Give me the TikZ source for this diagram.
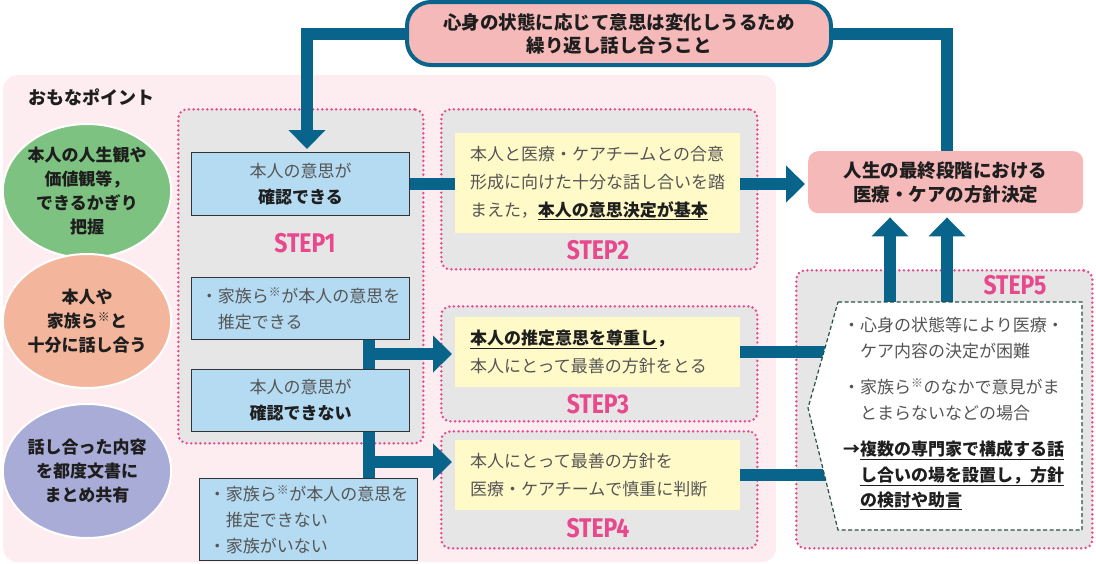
\documentclass[tikz,border=0pt]{standalone}
\usepackage{fontspec}
\setmainfont{Noto Sans CJK JP}
\newfontfamily\stepfont[FakeStretch=0.85]{Fira Sans}
\usetikzlibrary{arrows.meta,calc,shapes.geometric}
\definecolor{barblue}{RGB}{8,100,138}
\definecolor{ptbg}{RGB}{253,237,241}
\definecolor{stepbg}{RGB}{230,230,231}
\definecolor{dotpink}{RGB}{232,72,140}
\definecolor{lblue}{RGB}{180,219,242}
\definecolor{lyellow}{RGB}{255,250,200}
\definecolor{lpink}{RGB}{246,185,185}
\definecolor{cgreen}{RGB}{125,194,128}
\definecolor{corange}{RGB}{243,181,155}
\definecolor{cpurple}{RGB}{168,172,214}
\definecolor{txtgray}{RGB}{85,85,85}
\definecolor{dashgreen}{RGB}{40,80,70}
\definecolor{txtblack}{RGB}{30,30,30}
\newcommand\jbold[1]{\textbf{\color{txtblack}#1}}
\pgfdeclarelayer{bglayer}
\pgfdeclarelayer{midlayer}
\pgfsetlayers{bglayer,midlayer,main}
\tikzset{
 ptregion/.style={fill=ptbg, rounded corners=14pt, inner sep=0pt, anchor=north west},
 stepregion/.style={draw=dotpink, fill=stepbg, line width=2.7pt, dash pattern=on 0pt off 4.6pt, line cap=round, rounded corners=9pt, inner sep=0pt, anchor=north west},
 bluebox/.style={draw=black!80, line width=1.1pt, fill=lblue, inner sep=0pt, anchor=north west, align=center, text=txtgray, font=\fontsize{17}{26}\selectfont},
 yellowbox/.style={fill=lyellow, anchor=north west, inner xsep=15pt, inner ysep=0pt, text width=255pt, align=left, text=txtgray, font=\fontsize{17}{28}\selectfont},
 steplabel/.style={text=dotpink, font=\stepfont\bfseries\fontsize{27}{27}\selectfont, inner sep=0pt},
 bar/.style={draw=barblue, line width=12pt},
 arr/.style={bar, -{Triangle[width=36pt,length=19pt]}},
 pointcircle/.style={ellipse, draw=white, line width=2pt, minimum width=142pt, minimum height=134pt, inner sep=0pt, align=center, text=txtblack, font=\bfseries\fontsize{17}{24}\selectfont},
}
\begin{document}
\begin{tikzpicture}[x=1pt,y=-1pt]
\useasboundingbox (0,0) rectangle (1096,563);
\begin{pgfonlayer}{bglayer}
\node[ptregion, minimum width=773pt, minimum height=487pt] (pts) at (3,75) {};
\node[stepregion, minimum width=245pt, minimum height=334pt] (s1) at (177,108) {};
\node[stepregion, minimum width=316pt, minimum height=160pt] (s2) at (440,108) {};
\node[stepregion, minimum width=316pt, minimum height=115pt] (s3) at (440,305) {};
\node[stepregion, minimum width=316pt, minimum height=117pt] (s4) at (440,430) {};
\node[stepregion, minimum width=296pt, minimum height=278pt] (s5) at (795,269) {};
\end{pgfonlayer}

% left points
\node[anchor=west, inner sep=0pt, text=txtblack, font=\bfseries\fontsize{18}{18}\selectfont] (ptitle) at (28,97) {おもなポイント};
\node[pointcircle, fill=cgreen] (c1) at (87,191) {本人の人生観や\\価値観等，\\できるかぎり\\把握};
\node[pointcircle, fill=corange] (c2) at (87,321) {本人や\\家族ら\textsuperscript{※}と\\十分に話し合う};
\node[pointcircle, fill=cpurple] (c3) at (87,471) {話し合った内容\\を都度文書に\\まとめ共有};

% top pill
\node[draw=barblue, line width=4pt, fill=lpink, rounded corners=24pt, minimum width=424pt, minimum height=63pt, anchor=north west, align=center, inner sep=0pt, text=txtblack, font=\bfseries\fontsize{18.5}{23}\selectfont] (pill) at (405,0) {心身の状態に応じて意思は変化しうるため\\繰り返し話し合うこと};

% goal
\node[fill=lpink, rounded corners=10pt, minimum width=275pt, minimum height=62pt, anchor=north west, align=center, inner sep=0pt, text=txtblack, font=\bfseries\fontsize{18.5}{24}\selectfont] (goal) at (808,151) {人生の最終段階における\\医療・ケアの方針決定};

% STEP1 boxes
\node[bluebox, minimum width=218pt, minimum height=63pt] (box1) at (191,152) {本人の意思が\\\jbold{確認できる}};
\node[bluebox, minimum width=218pt, minimum height=62pt, align=left] (box2) at (191,277) {・家族ら\textsuperscript{※}が本人の意思を\\\hphantom{・}推定できる};
\node[bluebox, minimum width=218pt, minimum height=62pt] (box3) at (191,369) {本人の意思が\\\jbold{確認できない}};
\node[bluebox, minimum width=218pt, minimum height=82pt, align=left] (box4) at (199,478) {・家族ら\textsuperscript{※}が本人の意思を\\\hphantom{・}推定できない\\・家族がいない};

% yellow boxes
\node[yellowbox, minimum height=100pt] (y2) at (455,133) {本人と医療・ケアチームとの合意\\形成に向けた十分な話し合いを踏\\まえた，\jbold{\underline{本人の意思決定が基本}}};
\node[yellowbox, minimum height=70pt] (y3) at (455,317) {\jbold{\underline{本人の推定意思を尊重し}，}\\本人にとって最善の方針をとる};
\node[yellowbox, minimum height=70pt] (y4) at (455,440) {本人にとって最善の方針を\\医療・ケアチームで慎重に判断};

% step labels
\node[steplabel] (l1) at (305,243) {STEP1};
\node[steplabel] (l2) at (598,250) {STEP2};
\node[steplabel] (l3) at (598,404) {STEP3};
\node[steplabel] (l4) at (598,528) {STEP4};
\node[steplabel] (l5) at (1015,285) {STEP5};

% connectors
\coordinate (pv) at (307,0);
\coordinate (gv) at (947,0);
\coordinate (v) at (369,0);
\coordinate (h3) at (363,354);
\coordinate (h4) at (363,462);
\coordinate (dl) at (835,0);
\coordinate (u1) at (890,304);
\coordinate (u2) at (947,304);
\begin{pgfonlayer}{midlayer}
\draw[arr] (pill.west) -| ($(box1.north -| pv)+(0,-3)$);
\draw[bar] (pill.east) -| (goal.north -| gv);
\draw[arr] (box1.east) -- ($(box1.east -| goal.west)+(-3,0)$);
\draw[bar] (box2.south -| v) -- (box3.north -| v);
\draw[bar] (box3.south -| v) -- (box4.north -| v);
\draw[arr] (h3) -- ($(h3 -| y3.west)+(-3,0)$);
\draw[arr] (h4) -- ($(h4 -| y4.west)+(-3,0)$);
\draw[bar] (y3.east) -- (y3.east -| dl);
\draw[bar] (y4.east) -- (y4.east -| dl);
\draw[arr] (u1) -- ($(u1 |- goal.south)+(0,4)$);
\draw[arr] (u2) -- ($(u2 |- goal.south)+(0,4)$);
\end{pgfonlayer}

% STEP5 dashed chevron box
\draw[draw=dashgreen, fill=white, line width=1.2pt, dash pattern=on 4pt off 2.5pt] (838,302) -- (1082,302) -- (1082,530) -- (838,530) -- (808,408) -- cycle;
\node[anchor=north west, inner sep=0pt, align=left, text=txtgray, font=\fontsize{17}{25.5}\selectfont] (t5) at (843,317) {・心身の状態等により医療・\\\hphantom{・}ケア内容の決定が困難\\[11pt]・家族ら\textsuperscript{※}のなかで意見がま\\\hphantom{・}とまらないなどの場合\\[11pt]\jbold{→\underline{複数の専門家で構成する話}}\\\jbold{\hphantom{→}\underline{し合いの場を設置し，方針}}\\\jbold{\hphantom{→}\underline{の検討や助言}}};
\end{tikzpicture}
\end{document}
